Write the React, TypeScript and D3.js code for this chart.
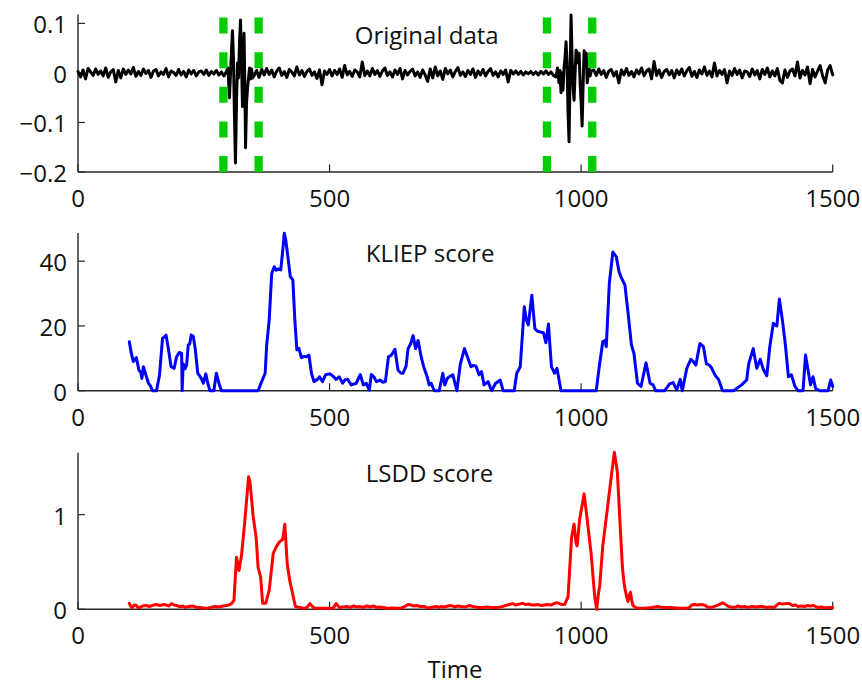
import React from 'react';
import * as d3 from 'd3';

// ---------- data ----------
const TIME_TICKS = [0, 500, 1000, 1500];
const ORIG_TICKS = [0.1, 0, -0.1, -0.2];
const KLIEP_TICKS = [0, 20, 40];
const LSDD_TICKS = [0, 1];
const CHANGE_POINTS = [289, 359, 932, 1022];

// original signal, background noise sampled every 5 time units (values in 1/1000)
const NOISE_STEP = 5;
const origNoiseMilli = [
  3, -8, 6, -12, 9, 2, -5, 8, -3, 4, -6, 10, -9, 2, 7, -18, 5, -10, 8, -3,
  6, -2, 11, -7, 3, -5, 8, -1, 5, -9, 4, 7, -6, 2, -3, 9, -8, 4, 1, -5,
  7, -4, 3, -8, 6, -2, 5, -6, 2, 4, -3, 6, -5, 3, -2, 5, -4, 2, -6, 3,
  0, 0, 0, 0, 0, 0, 0, 0, 0, 0, -6, 5, -9, 7, -4, 9, -3, 6, -8, 4,
  10, -5, 3, -9, 7, 2, -6, 12, -4, 5, -7, 3, 8, -5, 2, -11, 6, -24, 4, -3,
  7, -6, 5, -3, 8, -9, 15, -4, 3, -7, 6, 2, -8, 22, -5, 4, -6, 9, -3, 5,
  -7, 4, 10, -5, 2, -8, 6, -3, 9, -12, 5, -4, 3, 8, -6, 2, -9, 6, -4, -17,
  8, -10, 12, -6, 4, -13, 9, -2, 6, -8, 3, 11, -5, 2, -7, 5, -3, 8, -9, 4,
  -4, 7, -6, 3, 9, -5, 2, -8, 4, -3, 6, -18, 5, -2, 4, -3, 3, -4, 2, -2,
  3, -3, 2, -4, 3, -2, 4, -3, 2, -5, 0, 0, 0, 0, 0, 0, 0, 0, 0, 0,
  0, 0, 0, 0, 0, 6, -5, 8, -3, 5, -9, 4, 7, -6, 3, -20, 6, -4, 9, -5,
  3, -8, 6, -2, 10, -6, 4, 8, -12, 23, -5, 6, -9, 3, 7, -4, 5, -10, 6, -3,
  8, -6, 4, 11, -7, 3, -9, 6, -2, 12, -5, 4, -8, 20, -6, 5, -3, 7, -20, 4,
  -5, 9, -3, 6, -10, 4, 2, -7, 8, -4, 5, -12, 7, -3, 10, -8, 4, -6, 9, -15,
  -20, 6, -9, 4, 8, -6, 22, -10, 5, -4, 12, -22, 7, -8, 4, 15, -6, -20, 6, 15,
  -4,
];

// bursts around the change points: [time, value]
const burst1: [number, number][] = [
  [298, 0.01], [301, -0.05], [304, 0.02], [307, 0.085], [309, 0.03], [311, -0.09],
  [313, -0.182], [315, -0.06], [317, 0.02], [319, -0.01], [321, 0.06], [323, 0.107],
  [325, 0.02], [327, -0.068], [329, 0.02], [330, 0.08], [332, -0.05], [333, -0.151],
  [335, -0.06], [337, -0.03], [339, -0.01], [341, 0.01], [343, -0.012], [345, 0.008],
  [347, -0.01],
];
const burst2: [number, number][] = [
  [950, -0.008], [953, 0.01], [956, -0.02], [958, 0.005], [960, -0.04], [962, 0.0],
  [964, -0.035], [966, 0.01], [968, 0.03], [970, 0.063], [972, 0.02], [974, -0.08],
  [976, -0.139], [978, 0.0], [980, 0.117], [982, 0.03], [984, -0.03], [986, -0.055],
  [988, 0.0], [990, 0.046], [992, 0.04], [994, 0.02], [996, 0.04], [998, -0.02],
  [1000, -0.06], [1002, -0.107], [1004, -0.02], [1006, 0.045], [1008, 0.03],
  [1010, 0.04], [1012, -0.02], [1014, -0.005], [1016, 0.01], [1018, -0.006], [1020, 0.004],
];

const kliepScore: [number, number][] = [
  [102, 15.1], [106, 11.5], [110, 9], [116, 10.2], [121, 6.4], [125, 5.6], [127, 3.8], [130, 7.4],
  [136, 4.3], [140, 2.3], [144, 1.5], [148, 0], [156, 0], [162, 4.8], [168, 16.2], [171, 16.5],
  [175, 17.2], [180, 12.6], [185, 7.4], [191, 6.9], [196, 10.5], [201, 11.8], [206, 11.5], [207, 0],
  [209, 8.3], [213, 6.8], [216, 8], [219, 14.1], [222, 14.4], [225, 17.2], [229, 16.8], [233, 13],
  [238, 5.4], [245, 3.8], [249, 2.3], [254, 5.2], [258, 2.3], [262, 0], [270, 0], [275, 5.4],
  [280, 2.3], [285, 0], [358, 0], [365, 2.8], [372, 5.4], [375, 14.1], [380, 21.8], [385, 36.2],
  [390, 38.3], [394, 37.2], [398, 37.6], [403, 37.3], [407, 43.4], [410, 48.6], [413, 46.5],
  [418, 40.3], [422, 35.2], [427, 34.2], [431, 21.8], [435, 12.6], [439, 13.1], [444, 10.2],
  [449, 10.6], [454, 10.5], [459, 11], [464, 5.4], [469, 2.8], [476, 3.5], [480, 4.3], [486, 2.8],
  [492, 4.9], [500, 5.2], [506, 4.6], [513, 3.5], [519, 4.3], [526, 2.3], [531, 3.4], [536, 3.5],
  [543, 1.8], [553, 2.3], [561, 5], [567, 1.8], [573, 2.3], [579, 0.2], [583, 5], [588, 4.3],
  [593, 2.8], [600, 3.3], [606, 2.6], [611, 2.8], [617, 10.5], [623, 11], [630, 12.8], [636, 6.4],
  [641, 5.5], [646, 5.4], [652, 7.5], [656, 13], [661, 14.4], [666, 17], [671, 13], [676, 15.5],
  [682, 10.5], [687, 7.4], [694, 4.3], [698, 1.8], [702, 2.3], [708, 0], [718, 0], [725, 5.4],
  [729, 1.8], [734, 3.8], [738, 4.3], [745, 4.9], [753, 0], [760, 8.3], [768, 13], [774, 10.5],
  [781, 7.4], [786, 7.8], [791, 7.6], [797, 4.9], [802, 5.9], [807, 1.8], [815, 2.8], [822, 0],
  [830, 2.3], [835, 2.8], [839, 3.3], [845, 0], [867, 0], [872, 5.4], [879, 7.4], [887, 25.9],
  [891, 22], [895, 20.3], [902, 29.5], [908, 19.2], [912, 18.5], [917, 18.2], [925, 17.9],
  [930, 14.8], [935, 20.6], [941, 7.4], [947, 5.4], [952, 6.9], [960, 0], [1030, 0], [1036, 7.4],
  [1043, 15.1], [1047, 15.5], [1050, 13.6], [1056, 33.1], [1063, 42.8], [1070, 41.3], [1075, 37],
  [1079, 35.2], [1087, 32.6], [1093, 24.4], [1100, 14.1], [1105, 11.5], [1112, 2.3], [1119, 1.3],
  [1129, 8.6], [1137, 2.3], [1143, 1.8], [1148, 0], [1166, 0], [1176, 2.1], [1183, 2.5], [1190, 0.2],
  [1197, 3.5], [1201, 0], [1210, 6.9], [1218, 9.7], [1223, 9], [1228, 7.9], [1236, 14.6],
  [1243, 13.6], [1249, 8.3], [1254, 8], [1259, 7.1], [1267, 4.6], [1273, 3.5], [1281, 0], [1303, 0],
  [1319, 1.8], [1329, 3.3], [1333, 8.3], [1342, 13], [1349, 6.9], [1356, 9.7], [1362, 6.6],
  [1369, 4.6], [1375, 13.6], [1382, 20.8], [1389, 20], [1394, 28.3], [1400, 21.8], [1406, 14.1],
  [1412, 4.3], [1418, 4.9], [1425, 1.3], [1431, 0], [1441, 0], [1446, 11], [1452, 5.4], [1456, 1.8],
  [1461, 4.3], [1466, 0.7], [1474, 0], [1491, 0], [1496, 3.3], [1500, 1.3],
];

const lsddScore: [number, number][] = [
  [102, 0.063], [105, 0.03], [108, 0.02], [112, 0.045], [116, 0.04], [120, 0.015], [123, 0.02],
  [128, 0.035], [136, 0.04], [142, 0.03], [150, 0.045], [156, 0.05], [163, 0.04], [170, 0.05],
  [176, 0.045], [181, 0.035], [186, 0.06], [191, 0.045], [196, 0.04], [203, 0.025], [208, 0.035],
  [213, 0.02], [220, 0.03], [229, 0.035], [235, 0.02], [242, 0.02], [249, 0.015], [256, 0.01],
  [264, 0.02], [272, 0.03], [280, 0.025], [288, 0.035], [295, 0.04], [300, 0.045], [305, 0.06],
  [310, 0.095], [315, 0.55], [320, 0.41], [325, 0.57], [331, 0.9], [339, 1.4], [342, 1.34],
  [348, 0.99], [354, 0.76], [358, 0.44], [363, 0.34], [367, 0.063], [373, 0.063], [380, 0.2],
  [388, 0.59], [394, 0.66], [400, 0.71], [407, 0.74], [411, 0.9], [416, 0.47], [421, 0.3],
  [426, 0.18], [432, 0.03], [441, 0.02], [451, 0.01], [456, 0.025], [461, 0.06], [466, 0.03],
  [471, 0.01], [480, 0.01], [490, 0.012], [500, 0.01], [507, 0.01], [513, 0.06], [519, 0.02],
  [526, 0.025], [534, 0.03], [541, 0.02], [548, 0.035], [554, 0.025], [560, 0.03], [567, 0.02],
  [574, 0.035], [581, 0.025], [587, 0.035], [594, 0.02], [600, 0.025], [607, 0.02], [615, 0.012],
  [625, 0.015], [632, 0.01], [640, 0.01], [648, 0.025], [656, 0.05], [662, 0.045], [667, 0.035],
  [673, 0.04], [680, 0.03], [688, 0.03], [694, 0.015], [700, 0.02], [706, 0.025], [712, 0.03],
  [718, 0.02], [722, 0.03], [728, 0.025], [735, 0.035], [742, 0.04], [748, 0.025], [755, 0.035],
  [762, 0.03], [770, 0.025], [778, 0.04], [785, 0.03], [795, 0.02], [802, 0.02], [812, 0.025],
  [822, 0.02], [832, 0.02], [841, 0.025], [850, 0.04], [857, 0.05], [864, 0.06], [870, 0.045],
  [877, 0.055], [884, 0.063], [890, 0.05], [896, 0.055], [902, 0.045], [908, 0.045], [915, 0.05],
  [921, 0.04], [927, 0.045], [933, 0.05], [940, 0.045], [946, 0.06], [951, 0.07], [957, 0.06],
  [962, 0.05], [967, 0.05], [974, 0.13], [981, 0.76], [986, 0.9], [990, 0.7], [992, 0.67],
  [997, 0.95], [1006, 1.22], [1014, 0.86], [1020, 0.58], [1027, 0.13], [1031, 0], [1034, 0.15],
  [1037, 0.25], [1043, 0.67], [1053, 1.1], [1061, 1.45], [1066, 1.66], [1072, 1.45], [1079, 0.74],
  [1082, 0.45], [1085, 0.29], [1087, 0.22], [1089, 0.17], [1091, 0.12], [1093, 0.08], [1096, 0.15],
  [1098, 0.18], [1101, 0.08], [1103, 0.04], [1108, 0.02], [1113, 0.01], [1120, 0.012], [1130, 0.015],
  [1140, 0.02], [1146, 0.025], [1152, 0.03], [1160, 0.02], [1170, 0.02], [1179, 0.02], [1190, 0.015],
  [1200, 0.01], [1209, 0.01], [1215, 0.02], [1220, 0.045], [1225, 0.05], [1232, 0.045], [1238, 0.05],
  [1245, 0.045], [1251, 0.025], [1258, 0.02], [1265, 0.03], [1272, 0.045], [1278, 0.06], [1281, 0.07],
  [1287, 0.05], [1293, 0.03], [1298, 0.025], [1305, 0.02], [1312, 0.035], [1318, 0.025], [1325, 0.03],
  [1332, 0.02], [1340, 0.03], [1348, 0.025], [1355, 0.03], [1361, 0.03], [1368, 0.02], [1375, 0.025],
  [1384, 0.02], [1390, 0.05], [1394, 0.063], [1400, 0.055], [1407, 0.06], [1414, 0.06], [1420, 0.04],
  [1426, 0.045], [1431, 0.03], [1438, 0.035], [1444, 0.03], [1450, 0.04], [1456, 0.035], [1462, 0.04],
  [1470, 0.02], [1478, 0.025], [1485, 0.015], [1492, 0.02], [1500, 0.02],
];

// ---------- layout ----------
const W = 862;
const H = 684;
const FONT = '"Open Sans", "Noto Sans", sans-serif';
const FS = 24;
const AXIS_COLOR = '#262626';

const bursts = [burst1, burst2];
const burstRanges = bursts.map((b) => [b[0][0], b[b.length - 1][0]]);
const originalData: [number, number][] = [
  ...origNoiseMilli
    .map((m, i) => [i * NOISE_STEP, m / 1000] as [number, number])
    .filter(([t]) => !burstRanges.some(([a, b]) => t >= a && t <= b)),
  ...burst1,
  ...burst2,
].sort((a, b) => a[0] - b[0]);

const x = d3.scaleLinear().domain([0, 1500]).range([78, 832.7]);

function fmt(v: number) {
  return v < 0 ? '\u2212' + String(Math.abs(v)) : String(v);
}

type PanelProps = {
  top: number;
  bottom: number;
  domain: [number, number];
  ticks: number[];
  title: string;
  titleT: number;
  series: [number, number][];
  color: string;
  width: number;
  markers?: number[];
};

function Panel({ top, bottom, domain, ticks, title, titleT, series, color, width, markers }: PanelProps) {
  const y = d3.scaleLinear().domain(domain).range([bottom, top]);
  const line = d3
    .line<[number, number]>()
    .x((d) => x(d[0]))
    .y((d) => y(d[1]));
  const [x0, x1] = x.range();
  return (
    <g>
      <line x1={x0} x2={x0} y1={top} y2={bottom} stroke={AXIS_COLOR} strokeWidth={1.4} />
      <line x1={x0} x2={x1} y1={bottom} y2={bottom} stroke={AXIS_COLOR} strokeWidth={1.4} />
      {ticks.map((t) => (
        <g key={'y' + t}>
          <line x1={x0} x2={x0 + 7} y1={y(t)} y2={y(t)} stroke={AXIS_COLOR} strokeWidth={1.2} />
          <text
            x={x0 - 11}
            y={y(t) + 10}
            textAnchor="end"
            fontFamily={FONT}
            fontSize={FS}
            fill="#111"
          >
            {fmt(t)}
          </text>
        </g>
      ))}
      {TIME_TICKS.map((t) => (
        <g key={'x' + t}>
          <line x1={x(t)} x2={x(t)} y1={bottom} y2={bottom - 7.5} stroke={AXIS_COLOR} strokeWidth={1.2} />
          <text x={x(t)} y={bottom + 35} textAnchor="middle" fontFamily={FONT} fontSize={FS} fill="#111">
            {t}
          </text>
        </g>
      ))}
      <path
        d={line(series) || ''}
        fill="none"
        stroke={color}
        strokeWidth={width}
        strokeLinejoin="round"
        strokeLinecap="round"
      />
      {markers &&
        markers.map((m) => (
          <line
            key={'m' + m}
            x1={x(m)}
            x2={x(m)}
            y1={bottom}
            y2={top}
            stroke="#00cc00"
            strokeWidth={8.3}
            strokeDasharray="16 18.6"
          />
        ))}
      <text x={x(titleT)} y={top + 29} fontFamily={FONT} fontSize={FS} fill="#111">
        {title}
      </text>
    </g>
  );
}

export default function App() {
  return (
    <svg
      width={W}
      height={H}
      style={{ position: 'absolute', left: 0, top: 0, background: '#fff' }}
    >
      <rect width={W} height={H} fill="#fff" />
      <Panel
        top={14.5}
        bottom={172}
        domain={[-0.2, 0.118]}
        ticks={ORIG_TICKS}
        title="Original data"
        titleT={550}
        series={originalData}
        color="#000"
        width={3}
        markers={CHANGE_POINTS}
      />
      <Panel
        top={233}
        bottom={390.7}
        domain={[0, 48.7]}
        ticks={KLIEP_TICKS}
        title="KLIEP score"
        titleT={572}
        series={kliepScore}
        color="#0000ff"
        width={3}
      />
      <Panel
        top={452.7}
        bottom={609.3}
        domain={[0, 1.655]}
        ticks={LSDD_TICKS}
        title="LSDD score"
        titleT={572}
        series={lsddScore}
        color="#ff0000"
        width={3}
      />
      <text x={455} y={678} textAnchor="middle" fontFamily={FONT} fontSize={FS} fill="#111">
        Time
      </text>
    </svg>
  );
}
